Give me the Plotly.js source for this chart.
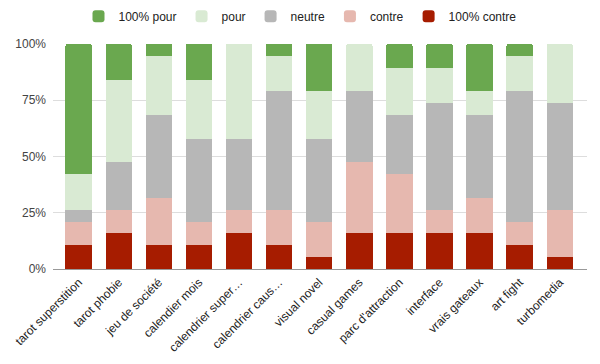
<!DOCTYPE html>
<html>
<head>
<meta charset="utf-8">
<script src="https://cdn.plot.ly/plotly-3.0.1.min.js"></script>
<style>html,body{margin:0;padding:0;background:#fff;}#chart{width:600px;height:364px;}</style>
</head>
<body>
<div id="chart"></div>
<script>
const categories = ["tarot superstition","tarot phobie","jeu de société","calendier mois","calendrier super…","calendrier caus…","visual novel","casual games","parc d'attraction","interface","vrais gateaux","art fight","turbomedia"];
const contre100 = [10.5,15.8,10.5,10.5,15.8,10.5,5.3,15.8,15.8,15.8,15.8,10.5,5.3];
const contre    = [10.5,10.5,21.1,10.5,10.5,15.8,15.8,31.6,26.3,10.5,15.8,10.5,21.1];
const neutre    = [5.3,21.1,36.8,36.8,31.6,52.6,36.8,31.6,26.3,47.4,36.8,57.9,47.4];
const pour      = [15.8,36.8,26.3,26.3,42.1,15.8,21.1,21.1,21.1,15.8,10.5,15.8,26.3];
const pour100   = [57.9,15.8,5.3,15.8,0,5.3,21.1,0,10.5,10.5,21.1,5.3,0];
const seriesNames = ["100% contre","contre","neutre","pour","100% pour"];
const seriesColors = ["#a61c00","#e6b8af","#b7b7b7","#d9ead3","#6aa84f"];
const seriesValues = [contre100, contre, neutre, pour, pour100];

const traces = seriesValues.map((v,i)=>({
  type:'bar', x:categories, y:v, name:seriesNames[i],
  marker:{color:seriesColors[i], line:{width:0}},
  width:0.66, hoverinfo:'none'
}));

const layout = {
  width:600, height:364,
  margin:{l:53, r:13, t:44, b:95},
  barmode:'stack', barnorm:'percent', barcornerradius:2,
  paper_bgcolor:'#fff', plot_bgcolor:'#fff',
  font:{family:'Liberation Sans, Arial, sans-serif', color:'#444', size:12},
  showlegend:true,
  legend:{orientation:'h', x:0.5, xanchor:'center', xref:'container', y:0.995, yanchor:'top', yref:'container',
          traceorder:'reversed', font:{size:12, color:'#222'}},
  xaxis:{type:'category', range:[-0.64,12.68], tickangle:-45, tickfont:{size:12, color:'#222'},
         showgrid:false, showline:false, ticks:'', fixedrange:true, ticklabelstandoff:3},
  yaxis:{range:[0,100], tickvals:[0,25,50,75,100], ticktext:['0%','25%','50%','75%','100%'],
         gridcolor:'#dddddd', zeroline:true, zerolinecolor:'#999', zerolinewidth:1,
         tickfont:{size:12, color:'#444'}, ticks:'', ticklabelstandoff:6}
};
Plotly.newPlot('chart', traces, layout, {displayModeBar:false, staticPlot:true});
</script>
</body>
</html>
